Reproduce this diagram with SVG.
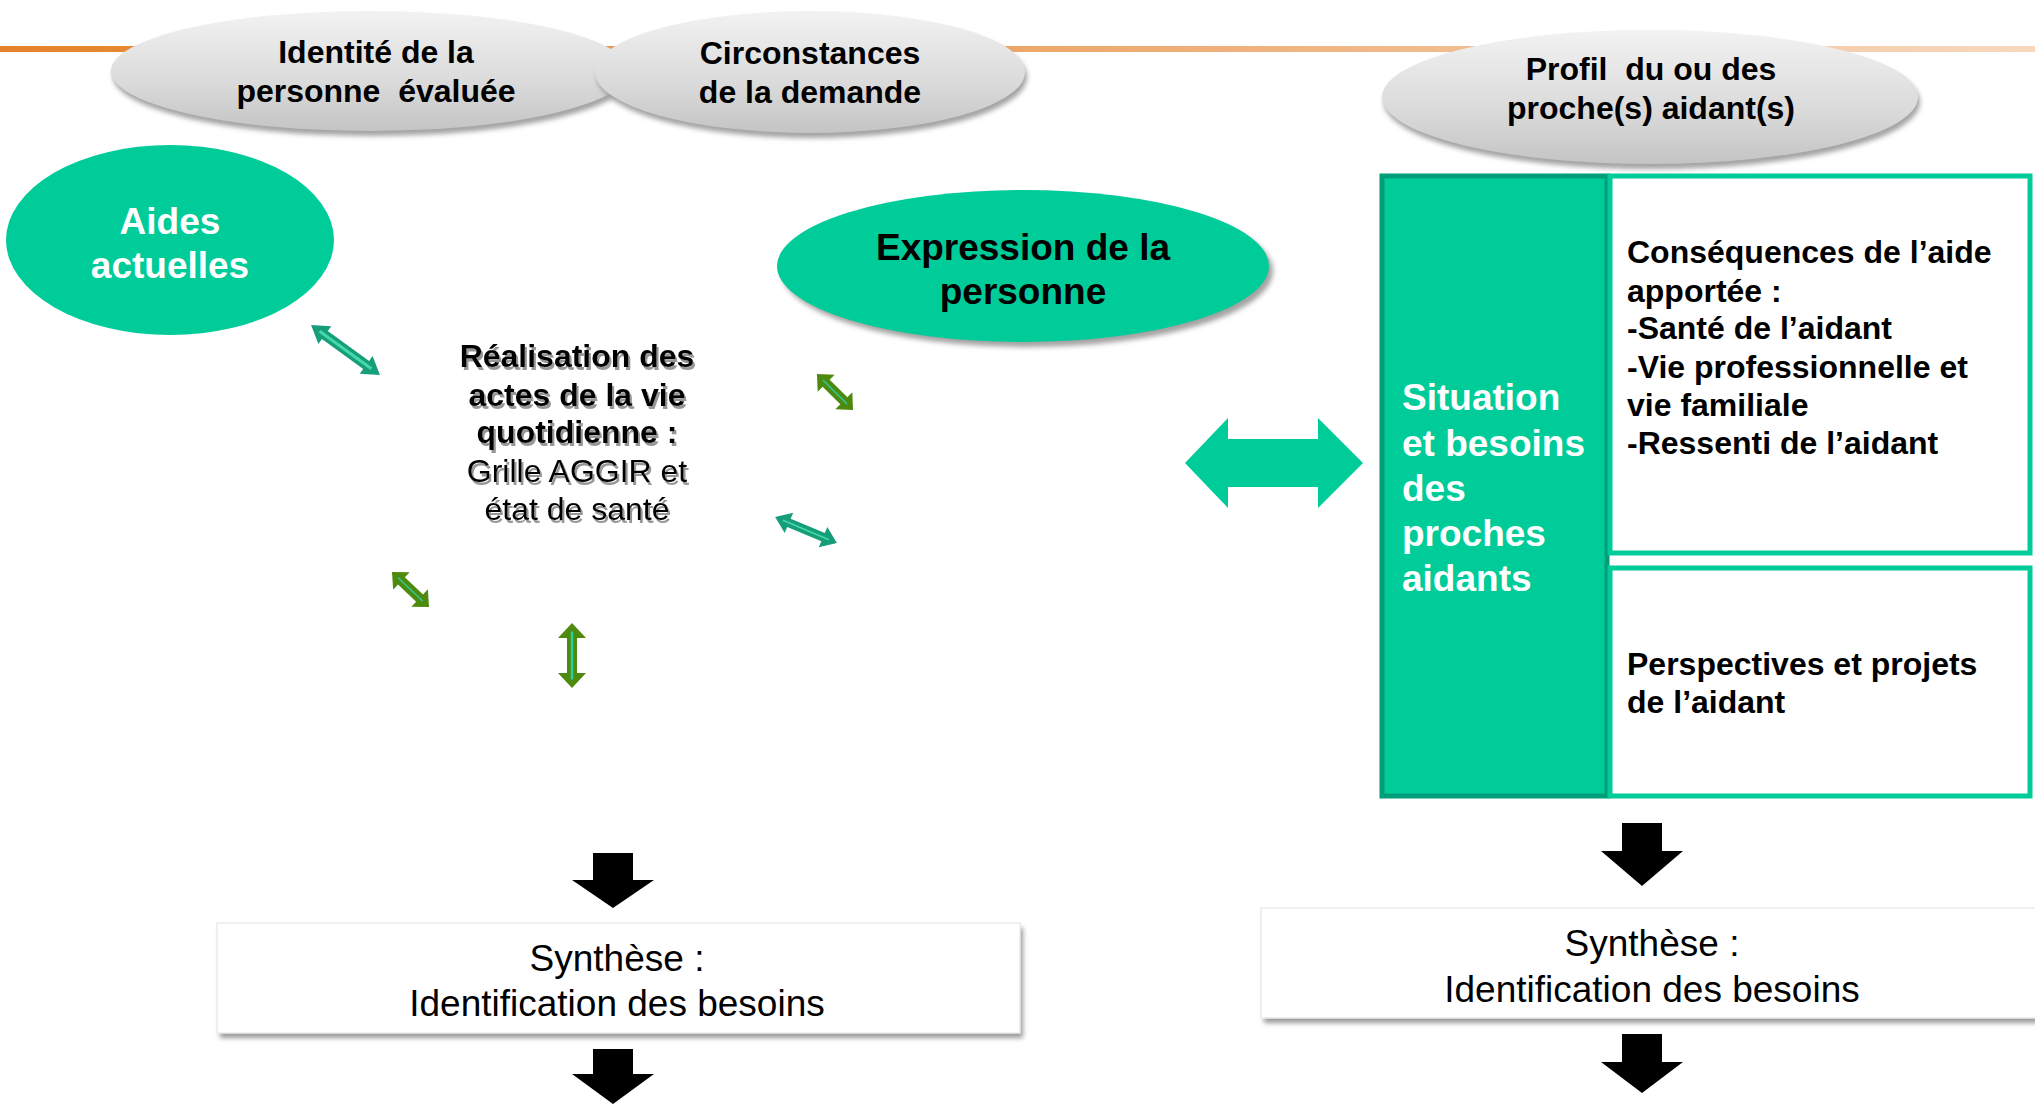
<svg xmlns="http://www.w3.org/2000/svg" width="2035" height="1104" viewBox="0 0 2035 1104">
<defs>
<linearGradient id="orange" x1="0" y1="0" x2="1" y2="0">
<stop offset="0" stop-color="#E5832B"/>
<stop offset="0.5" stop-color="#EDA76A"/>
<stop offset="1" stop-color="#F7D8BE"/>
</linearGradient>
<linearGradient id="gray" x1="0" y1="0" x2="0" y2="1">
<stop offset="0" stop-color="#F2F2F2"/>
<stop offset="0.6" stop-color="#DADADA"/>
<stop offset="1" stop-color="#C4C4C4"/>
</linearGradient>
<filter id="blur" x="-10%" y="-10%" width="120%" height="130%">
<feGaussianBlur stdDeviation="2.5"/>
</filter>
<filter id="tshadow" x="-5%" y="-5%" width="110%" height="130%">
<feDropShadow dx="2" dy="3" stdDeviation="0.6" flood-color="#8C8C8C" flood-opacity="0.9"/>
</filter>
<style>
.t{font-family:"Liberation Sans",Arial,sans-serif;white-space:pre;}
.b{font-weight:bold;}
.c{text-anchor:middle;}
.s32{font-size:32px;}
.s37{font-size:37px;}
.teal{fill:#00CC99;}
.grayell{fill:url(#gray);}
.shadow{fill:#A3A3A3;filter:url(#blur);}
.blk{fill:#000000;}
.sa-teal{fill:#169E7A;}
.sa-green{fill:#4E8A0E;}
.hl-teal{stroke:#45D9AA;stroke-width:3;fill:none;}
.hl-green{stroke:#2CCB9A;stroke-width:1.5;fill:none;}
.box{fill:#FFFFFF;stroke:#00CC99;stroke-width:5;}
.synbox{fill:#FFFFFF;stroke:#EBEBEB;stroke-width:1.5;}
</style>
</defs>

<rect x="0" y="0" width="2035" height="1104" fill="#FFFFFF"/>

<!-- orange header line -->
<rect id="header-line" x="0" y="46" width="2035" height="6" fill="url(#orange)"/>

<!-- top gray ellipses -->
<g id="identite">
<ellipse class="shadow" cx="372" cy="76" rx="259" ry="60"/>
<ellipse class="grayell" cx="370" cy="71" rx="259" ry="60"/>
<text class="t b c s32" x="376" y="63">Identité de la</text>
<text class="t b c s32" x="376" y="102" xml:space="preserve">personne  évaluée</text>
</g>
<g id="circonstances">
<ellipse class="shadow" cx="812" cy="77" rx="215" ry="61"/>
<ellipse class="grayell" cx="810" cy="72" rx="215" ry="61"/>
<text class="t b c s32" x="810" y="64">Circonstances</text>
<text class="t b c s32" x="810" y="103">de la demande</text>
</g>
<g id="profil">
<ellipse class="shadow" cx="1652" cy="102" rx="268" ry="67"/>
<ellipse class="grayell" cx="1650" cy="97" rx="268" ry="67"/>
<text class="t b c s32" x="1651" y="80" xml:space="preserve">Profil  du ou des</text>
<text class="t b c s32" x="1651" y="119">proche(s) aidant(s)</text>
</g>

<!-- Aides actuelles -->
<g id="aides">
<ellipse class="teal" cx="170" cy="240" rx="164" ry="95"/>
<text class="t b c s37" x="170" y="234" fill="#FFFFFF">Aides</text>
<text class="t b c s37" x="170" y="278" fill="#FFFFFF">actuelles</text>
</g>

<!-- Expression de la personne -->
<g id="expression">
<ellipse class="shadow" cx="1027" cy="271" rx="246" ry="76"/>
<ellipse class="teal" cx="1023" cy="266" rx="246" ry="76"/>
<text class="t b c s37" x="1023" y="260">Expression de la</text>
<text class="t b c s37" x="1023" y="304">personne</text>
</g>

<!-- centre text -->
<g id="realisation" filter="url(#tshadow)">
<text class="t b c s32" x="577" y="367">Réalisation des</text>
<text class="t b c s32" x="577" y="406">actes de la vie</text>
<text class="t b c s32" x="577" y="443">quotidienne :</text>
<text class="t c s32" x="577" y="482">Grille AGGIR et</text>
<text class="t c s32" x="577" y="520">état de santé</text>
</g>

<!-- situation block -->
<g id="situation">
<rect x="1382" y="176" width="225" height="620" fill="#00CC99" stroke="#009E78" stroke-width="5"/>
<text class="t b s37" x="1402" y="410" fill="#FFFFFF">Situation</text>
<text class="t b s37" x="1402" y="456" fill="#FFFFFF">et besoins</text>
<text class="t b s37" x="1402" y="501" fill="#FFFFFF">des</text>
<text class="t b s37" x="1402" y="546" fill="#FFFFFF">proches</text>
<text class="t b s37" x="1402" y="591" fill="#FFFFFF">aidants</text>
</g>
<g id="consequences">
<rect class="box" x="1610" y="176" width="420" height="377"/>
<text class="t b s32" x="1627" y="263">Conséquences de l’aide</text>
<text class="t b s32" x="1627" y="302">apportée :</text>
<text class="t b s32" x="1627" y="339">-Santé de l’aidant</text>
<text class="t b s32" x="1627" y="378">-Vie professionnelle et</text>
<text class="t b s32" x="1627" y="416">vie familiale</text>
<text class="t b s32" x="1627" y="454">-Ressenti de l’aidant</text>
</g>
<g id="perspectives">
<rect class="box" x="1610" y="568" width="420" height="228"/>
<text class="t b s32" x="1627" y="675">Perspectives et projets</text>
<text class="t b s32" x="1627" y="713">de l’aidant</text>
</g>

<!-- synthese boxes -->
<g id="synthese-left">
<rect x="220" y="928" width="803" height="110" fill="#9A9A9A" filter="url(#blur)"/>
<rect class="synbox" x="217" y="923" width="803" height="110"/>
<text class="t c s37" x="617" y="971">Synthèse :</text>
<text class="t c s37" x="617" y="1016">Identification des besoins</text>
</g>
<g id="synthese-right">
<rect x="1264" y="913" width="790" height="110" fill="#9A9A9A" filter="url(#blur)"/>
<rect class="synbox" x="1261" y="908" width="790" height="110"/>
<text class="t c s37" x="1652" y="956">Synthèse :</text>
<text class="t c s37" x="1652" y="1002">Identification des besoins</text>
</g>

<!-- connectors -->
<g id="connectors">
<g transform="translate(345.5,350) rotate(35.9)">
<polygon class="sa-teal" points="-42.5,0 -25.5,-11 -25.5,-5 25.5,-5 25.5,-11 42.5,0 25.5,11 25.5,5 -25.5,5 -25.5,11"/>
<line class="hl-teal" x1="-32" y1="0" x2="32" y2="0"/>
</g>
<g transform="translate(835,392) rotate(45)">
<polygon class="sa-green" points="-25.5,0 -12.5,-12 -12.5,-5 12.5,-5 12.5,-12 25.5,0 12.5,12 12.5,5 -12.5,5 -12.5,12"/>
<line class="hl-green" x1="-17" y1="0" x2="17" y2="0"/>
</g>
<g transform="translate(806,530) rotate(22.8)">
<polygon class="sa-teal" points="-33.5,0 -18.5,-11 -18.5,-4.5 18.5,-4.5 18.5,-11 33.5,0 18.5,11 18.5,4.5 -18.5,4.5 -18.5,11"/>
<line class="hl-teal" x1="-25" y1="0" x2="25" y2="0" style="stroke-width:1.5"/>
</g>
<g transform="translate(410.5,589.5) rotate(43.4)">
<polygon class="sa-green" points="-25.5,0 -12.5,-12 -12.5,-5 12.5,-5 12.5,-12 25.5,0 12.5,12 12.5,5 -12.5,5 -12.5,12"/>
<line class="hl-green" x1="-17" y1="0" x2="17" y2="0"/>
</g>
<g transform="translate(572,655.5) rotate(90)">
<polygon class="sa-green" points="-32.5,0 -17.5,-14 -17.5,-5 17.5,-5 17.5,-14 32.5,0 17.5,14 17.5,5 -17.5,5 -17.5,14"/>
<line class="hl-teal" x1="-24" y1="0" x2="24" y2="0" style="stroke:#22D39E;stroke-width:2.5"/>
</g>
<polygon class="teal" points="1185,463 1228,418 1228,439 1318,439 1318,418 1363,463 1318,508 1318,487 1228,487 1228,508"/>
<polygon class="blk" points="593,853 633,853 633,880 654,880 613,908 572,880 593,880"/>
<polygon class="blk" points="593,1049 633,1049 633,1074 654,1074 613,1104 572,1074 593,1074"/>
<polygon class="blk" points="1622,823 1662,823 1662,851 1683,851 1642,886 1601,851 1622,851"/>
<polygon class="blk" points="1622,1034 1662,1034 1662,1062 1683,1062 1642,1093 1601,1062 1622,1062"/>
</g>
</svg>
